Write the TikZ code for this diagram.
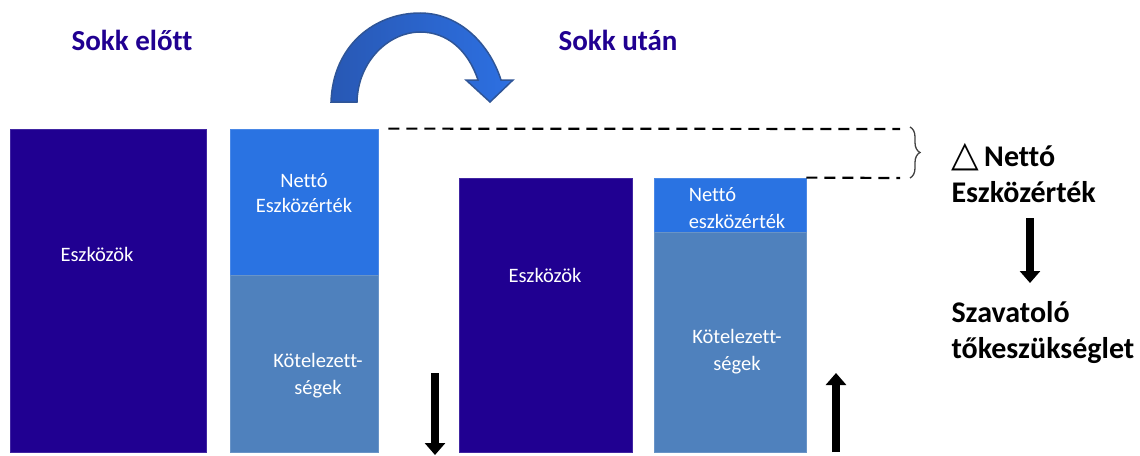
\documentclass[tikz,border=0pt]{standalone}
\usepackage{fontspec}
\setmainfont{Carlito}[Ligatures=CommonOff]
\newfontfamily\symfont{DejaVu Sans}
\usepackage{tikz}
\usetikzlibrary{positioning,arrows.meta,decorations.pathreplacing}
\definecolor{eszkoz}{RGB}{32,0,145}
\definecolor{netto}{RGB}{42,115,226}
\definecolor{kotel}{RGB}{79,129,189}
\definecolor{ivleft}{RGB}{40,88,180}
\definecolor{ivright}{RGB}{45,112,226}
\definecolor{ivedge}{RGB}{47,85,151}

\begin{document}
\begin{tikzpicture}[x=1pt, y=-1pt, node distance=0pt,
    box/.style = {draw=#1!85!white, fill=#1, line width=0.8pt, inner sep=0pt},
    lbl/.style = {text=white, font=\fontsize{20.5}{27}\selectfont, align=center},
    head/.style = {text=eszkoz, font=\bfseries\fontsize{29}{34}\selectfont},
    note/.style = {anchor=west, align=left, font=\bfseries\fontsize{30}{36}\selectfont},
    bigarrow/.style = {line width=8pt, -{Triangle[width=20pt,length=12pt]}}]
    \useasboundingbox (0,0) rectangle (1140,455);
    % vor dem Schock
    \node[head] (h1) at (132,40) {Sokk előtt};
    \node[box=eszkoz, minimum width=196, minimum height=323] (e1) at (108,290.5) {};
    \node[box=netto, minimum width=148, minimum height=146] (n1) at (304,202) {};
    \node[box=kotel, minimum width=148, minimum height=177, below=of n1] (k1) {};
    \node[lbl] (te1) at (97,254) {Eszközök};
    \node[lbl] (tn1) at (304,193) {Nettó\\[-2pt]Eszközérték};
    \node[lbl] (tk1) at (318,376) {Kötelezett-\\ségek};
    % nach dem Schock
    \node[head] (h2) at (618,40) {Sokk után};
    \node[box=eszkoz, minimum width=173, minimum height=274] (e2) at (545.5,315) {};
    \node[box=netto, minimum width=152, minimum height=54] (n2) at (730,205) {};
    \node[box=kotel, minimum width=152, minimum height=220, below=of n2] (k2) {};
    \node[lbl] (te2) at (545,275) {Eszközök};
    \node[lbl, align=left] (tn2) at (737,208) {Nettó\\eszközérték};
    \node[lbl] (tk2) at (737,352) {Kötelezett-\\ségek};
    % Bogenpfeil
    \path[draw=ivedge, line width=1.5pt, left color=ivleft, right color=ivright]
        (331,102) .. controls (333,45) and (375,13) .. (420,13)
        .. controls (460,13) and (490,45) .. (501,80)
        -- (513,80) -- (490,102) -- (466,80) -- (478,80)
        .. controls (468,50) and (447,32) .. (420,32)
        .. controls (390,32) and (358,60) .. (357,102) -- cycle;
    % Klammer
    \coordinate (bt) at (900,129);
    \coordinate (bb) at (900,178);
    \draw[line width=2.2pt, dash pattern=on 11pt off 7pt] ([xshift=10]n1.north east) -- (bt);
    \draw[line width=2.2pt, dash pattern=on 11pt off 7pt] (n2.north east) -- (bb);
    \draw[decorate, decoration={brace, amplitude=10pt}, line width=1.3pt, black!75]
        ([xshift=10,yshift=2]bt) -- ([xshift=10]bb);
    \node[note] (dn) at (948,173) {{\symfont\fontsize{36}{36}\selectfont △}\,Nettó\\Eszközérték};
    \node[note] (sz) at (948,333) {Szavatoló\\tőkeszükséglet};
    % Pfeile
    \coordinate (d1) at (435,373);
    \coordinate (d2) at (435,455);
    \coordinate (u1) at (836,452);
    \coordinate (u2) at (836,373);
    \coordinate (r1) at (1030,218);
    \coordinate (r2) at (1030,283);
    \draw[bigarrow] (d1) -- (d2);
    \draw[bigarrow] (u1) -- (u2);
    \draw[bigarrow] (r1) -- (r2);
\end{tikzpicture}
\end{document}
